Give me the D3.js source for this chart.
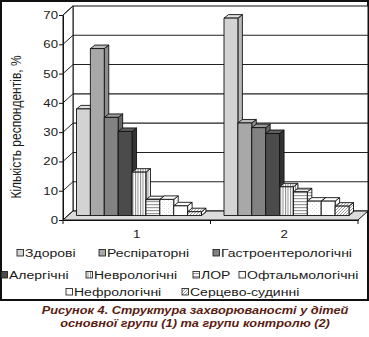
<!DOCTYPE html>
<html>
<head>
<meta charset="utf-8">
<script src="https://cdn.jsdelivr.net/npm/d3@7"></script>
<style>
  html, body { margin: 0; padding: 0; background: #fff; }
  svg { display: block; }
  text { font-family: "Liberation Sans", Arial, sans-serif; fill: #1a1a1a; }
</style>
</head>
<body>
<svg id="chart" width="369" height="337"></svg>
<script>
// Share of respondents (%) by disease group
const groups = ["1", "2"];
const series = ["Здорові", "Респіраторні", "Гастроентерологічні", "Алергічні",
  "Неврологічні", "ЛОР", "Офтальмологічні", "Нефрологічні", "Серцево-судинні"];
const group1 = [36.4, 57, 33.5, 28.7, 14.8, 5.4, 5.5, 3.3, 1.3];
const group2 = [67.4, 31.6, 30, 28, 9.8, 8.1, 4.9, 4.9, 3.2];
const yTicks = [0, 10, 20, 30, 40, 50, 60, 70];
const yTitle = "Кількість респондентів, %";
const captionLines = ["Рисунок 4. Структура захворюваності у дітей",
  "основної групи (1) та групи контролю (2)"];

const values = [group1, group2];

// front faces, side faces and top faces of each series
const fills = [
  { front: "#d3d3d3", side: "#b9b9b9", top: "#e2e2e2" },
  { front: "#a8a8a8", side: "#8e8e8e", top: "#bcbcbc" },
  { front: "#828282", side: "#666", top: "#999" },
  { front: "#4b4b4b", side: "#333", top: "#5e5e5e" },
  { front: "url(#vstripe)", side: "url(#vstripe)", top: "url(#vstripe)" },
  { front: "url(#hstripe)", side: "url(#hstripe)", top: "url(#hstripe)" },
  { front: "url(#speckle)", side: "url(#speckle)", top: "#fff" },
  { front: "#fff", side: "#fff", top: "#fff" },
  { front: "url(#diag)", side: "url(#diag)", top: "url(#diag)" }
];

const svg = d3.select("#chart");
const SX = 1.2; // horizontal stretch applied to the lettering

// ---- patterns
const defs = svg.append("defs");
function pattern(id, w, h, draw) {
  const p = defs.append("pattern").attr("id", id).attr("patternUnits", "userSpaceOnUse")
    .attr("width", w).attr("height", h);
  p.append("rect").attr("width", w).attr("height", h).attr("fill", "#fff");
  draw(p);
}
pattern("vstripe", 2.5, 4, p => p.append("rect").attr("x", 0).attr("width", 1).attr("height", 4).attr("fill", "#8a8a8a"));
pattern("hstripe", 4, 3, p => p.append("rect").attr("y", 0).attr("width", 4).attr("height", 1.2).attr("fill", "#999"));
pattern("speckle", 4, 4, p => {
  p.append("rect").attr("x", 0).attr("y", 0).attr("width", 1).attr("height", 1).attr("fill", "#ddd");
  p.append("rect").attr("x", 2).attr("y", 2).attr("width", 1).attr("height", 1).attr("fill", "#e6e6e6");
});
pattern("diag", 3, 3, p => p.append("path").attr("d", "M-1,4 L4,-1").attr("stroke", "#9a9a9a").attr("stroke-width", 1));

// ---- scales
const y = d3.scaleLinear().domain([0, 70]).range([220, 15]);
const x = d3.scaleBand().domain(groups).range([63, 358]);
const inner = d3.scaleBand().domain(series).range([8.5, 8.5 + 125]);

// depth offsets: walls, bar placement, bar thickness
const DX = 10, DY = -9;
const BX = 5, BY = -4.5;
const BDX = 4.5, BDY = -3.5;

const x0 = x.range()[0], x1 = x.range()[1];
const yTop = y(70), yBase = y(0);

function stext(parent, tx, ty, str, opts = {}) {
  const t = parent.append("text")
    .attr("transform", `translate(${tx},${ty}) scale(${opts.sx || SX},1)` + (opts.rotate ? ` rotate(${opts.rotate})` : ""))
    .attr("text-anchor", opts.anchor || "start")
    .attr("font-size", opts.size || 11)
    .text(str);
  if (opts.weight) t.attr("font-weight", opts.weight);
  if (opts.style) t.attr("font-style", opts.style);
  if (opts.fill) t.style("fill", opts.fill);
  return t;
}

// ---- outer frame
svg.append("rect").attr("x", 1).attr("y", 1).attr("width", 367).attr("height", 299)
  .attr("fill", "#fff").attr("stroke", "#111").attr("stroke-width", 2);

// ---- back wall
svg.append("rect").attr("x", x0 + DX).attr("y", yTop + DY)
  .attr("width", x1 - x0).attr("height", yBase - yTop)
  .attr("fill", "#fff").attr("stroke", "#111").attr("stroke-width", 1);
svg.append("g").selectAll("line").data(yTicks.slice(1, -1)).join("line")
  .attr("x1", x0 + DX).attr("x2", x1 + DX)
  .attr("y1", d => y(d) + DY).attr("y2", d => y(d) + DY)
  .attr("stroke", "#222").attr("stroke-width", 1.1);

// ---- side wall
svg.append("path")
  .attr("d", `M${x0},${yTop} L${x0 + DX},${yTop + DY} L${x0 + DX},${yBase + DY} L${x0},${yBase} Z`)
  .attr("fill", "#fff").attr("stroke", "#111").attr("stroke-width", 1);
svg.append("g").selectAll("line").data(yTicks).join("line")
  .attr("x1", x0).attr("x2", x0 + DX)
  .attr("y1", d => y(d)).attr("y2", d => y(d) + DY)
  .attr("stroke", "#222").attr("stroke-width", 1);

// ---- floor
svg.append("path")
  .attr("d", `M${x0},${yBase} L${x1},${yBase} L${x1 + DX},${yBase + DY} L${x0 + DX},${yBase + DY} Z`)
  .attr("fill", "#dcdcdc").attr("stroke", "#111").attr("stroke-width", 1);

// ---- bars (left to right so each bar hides its neighbour's side)
const barsG = svg.append("g").attr("stroke", "#111").attr("stroke-width", 0.9).attr("stroke-linejoin", "round");
groups.forEach((g, gi) => {
  series.forEach((s, si) => {
    const v = values[gi][si];
    const xl = x(g) + inner(s) + BX;
    const w = inner.bandwidth();
    const yt = y(v) + BY, yb = y(0) + BY;
    const f = fills[si];
    const bar = barsG.append("g");
    bar.append("path")
      .attr("d", `M${xl + w},${yt} L${xl + w + BDX},${yt + BDY} L${xl + w + BDX},${yb + BDY} L${xl + w},${yb} Z`)
      .attr("fill", f.side);
    bar.append("path")
      .attr("d", `M${xl},${yt} L${xl + BDX},${yt + BDY} L${xl + w + BDX},${yt + BDY} L${xl + w},${yt} Z`)
      .attr("fill", f.top);
    bar.append("rect").attr("x", xl).attr("y", yt).attr("width", w).attr("height", yb - yt)
      .attr("fill", f.front);
  });
});

// ---- y axis
const yAxis = svg.append("g").attr("transform", `translate(${x0},0)`)
  .call(d3.axisLeft(y).tickValues(yTicks).tickSize(4).tickSizeOuter(0).tickFormat(""));
yAxis.select(".domain").attr("stroke", "#111");
yAxis.selectAll(".tick line").attr("stroke", "#111");
yTicks.forEach(t => stext(svg, x0 - 5, y(t) + 4, String(t), { anchor: "end", size: 11 }));

stext(svg, 21, 127, yTitle, { anchor: "middle", size: 12, rotate: -90 });

// ---- x axis
const xAxis = svg.append("g").attr("transform", `translate(0,${yBase})`)
  .call(d3.axisBottom(x).tickSize(0).tickSizeOuter(0).tickFormat(""));
xAxis.select(".domain").attr("stroke", "#111");
const bounds = [x0].concat(groups.map(g => x(g) + x.bandwidth()));
svg.append("g").selectAll("line").data(bounds).join("line")
  .attr("x1", d => d).attr("x2", d => d).attr("y1", yBase).attr("y2", yBase + 4)
  .attr("stroke", "#111");
groups.forEach(g => stext(svg, x(g) + x.bandwidth() / 2, 238, g, { anchor: "middle", size: 11 }));

// ---- legend
const legendRows = [
  { y: 253, items: [[0, 17], [1, 99], [2, 213]] },
  { y: 275, items: [[3, 1], [4, 86], [5, 193], [6, 239]] },
  { y: 292, items: [[7, 66], [8, 182]] }
];
const lg = svg.append("g");
legendRows.forEach(row => {
  row.items.forEach(([si, lx]) => {
    lg.append("rect").attr("x", lx).attr("y", row.y - 3.5).attr("width", 6.5).attr("height", 6.5)
      .attr("fill", fills[si].front).attr("stroke", "#111").attr("stroke-width", 0.8);
    stext(lg, lx + 8, row.y + 4, series[si], { size: 11.5, sx: 1.22 });
  });
});

// ---- caption
captionLines.forEach((line, i) => {
  stext(svg, 195, 314 + i * 12.5, line,
    { anchor: "middle", size: 11, weight: "bold", style: "italic", fill: "#5a1d12", sx: 1.16 });
});
</script>
</body>
</html>
